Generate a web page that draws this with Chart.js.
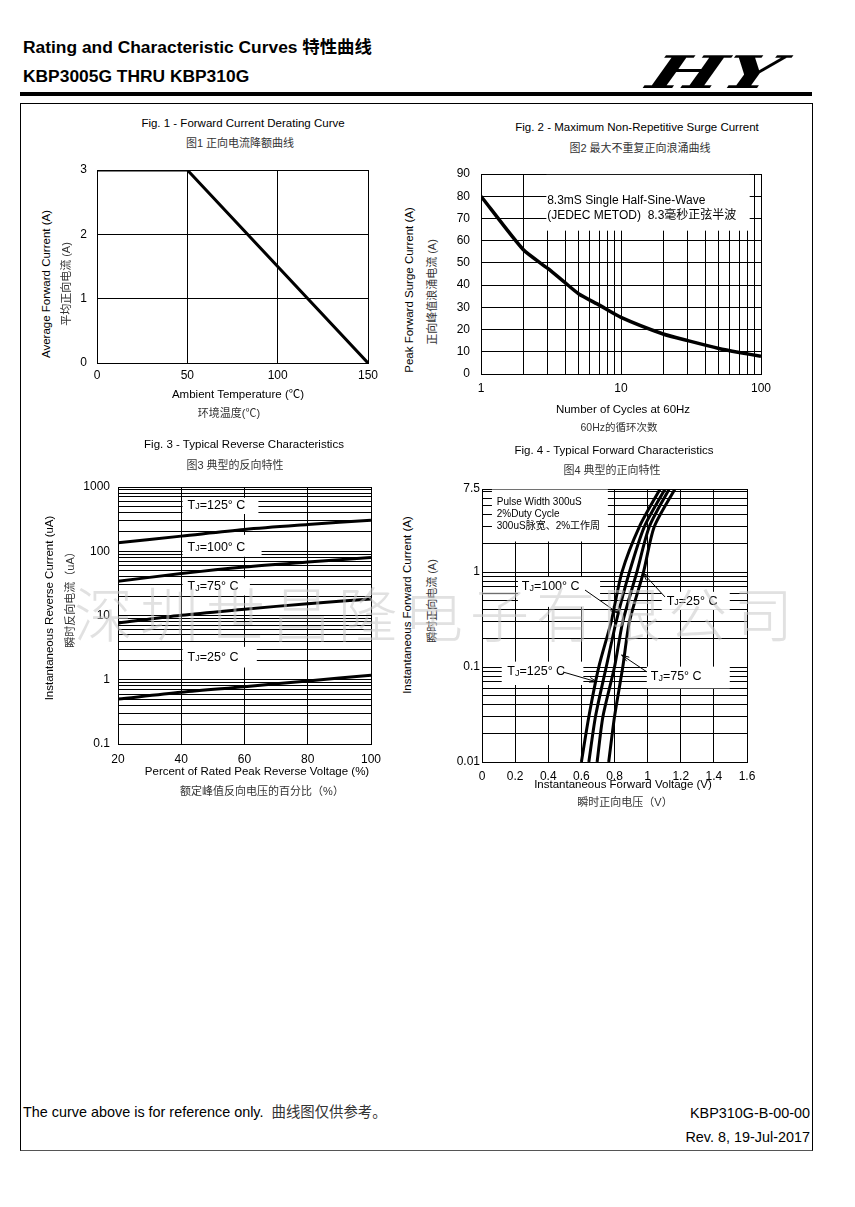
<!DOCTYPE html>
<html>
<head>
<meta charset="utf-8">
<script src="https://cdn.jsdelivr.net/npm/chart.js@4.4.0/dist/chart.umd.min.js"></script>
<style>
  body { margin: 0; background: #fff; }
  #page { position: relative; width: 855px; height: 1207px; overflow: hidden; background: #fff;
          font-family: Arial, "Liberation Sans", "Noto Sans CJK SC", sans-serif; color: #000; }
  .t { position: absolute; white-space: nowrap; line-height: 1; }
  canvas { position: absolute; }
</style>
</head>
<body>
<div id="page">
  <div class="t" style="left:23px;top:39px;font-size:17.4px;font-weight:bold">Rating and Characteristic Curves 特性曲线</div>
  <div class="t" style="left:23px;top:68px;font-size:17.4px;font-weight:bold">KBP3005G THRU KBP310G</div>
  <div class="t" style="left:660px;top:46px;font:italic bold 45px 'DejaVu Serif';transform:scaleX(1.75) skewX(-12deg);transform-origin:left top">HY</div>
  <div style="position:absolute;left:20px;top:92px;width:792px;height:4px;background:#000"></div>
  <div style="position:absolute;left:20px;top:103px;width:793px;height:1048px;border:1px solid #000;border-bottom-color:#555;box-sizing:border-box"></div>

  <canvas id="fig1"></canvas>
  <canvas id="fig2"></canvas>
  <canvas id="fig3"></canvas>
  <canvas id="fig4"></canvas>

  <div class="t" style="left:23px;top:1105px;font-size:14.4px">The curve above is for reference only. &nbsp;<span style="color:#333">曲线图仅供参考。</span></div>
  <div class="t" style="right:45px;top:1106px;font-size:14.4px">KBP310G-B-00-00</div>
  <div class="t" style="right:45px;top:1130px;font-size:14.4px">Rev. 8, 19-Jul-2017</div>

  <div class="t" style="left:74px;top:582px;font-size:59px;letter-spacing:7px;color:rgba(200,200,200,0.55);font-family:'Noto Sans CJK SC';font-weight:300;z-index:5">深圳世昌隆电子有限公司</div>
</div>

<script>
// ---------- data ----------
// Fig. 1 derating
const derateTemp = [0, 50, 150];
const derateCurrent = [3, 3, 0];

// Fig. 2 surge current vs cycles
const surgeCycles = [1, 2, 3, 4, 5, 7, 10, 20, 30, 50, 70, 100];
const surgeCurrent = [80, 56, 47.5, 41, 36, 31, 25.5, 18, 15, 11.5, 9.7, 8];
const surgeXGrid = [1, 2, 3, 4, 5, 6, 7, 8, 9, 10, 20, 30, 40, 50, 60, 70, 80, 90, 100];
const surgeXLabels = [1, 10, 100];

// Fig. 3 reverse current (uA) vs % rated voltage
const reversePct = [20, 40, 60, 80, 100];
const reverse125 = [136, 172, 218, 260, 305];
const reverse100 = [34, 45, 57, 68, 80];
const reverse75 = [7.6, 10.1, 12.5, 15.3, 18];
const reverse25 = [0.5, 0.64, 0.78, 0.96, 1.18];
const reverseYGrid = [0.1, 0.2, 0.3, 0.4, 0.5, 0.6, 0.7, 0.8, 0.9, 1, 2, 3, 4, 5, 6, 7, 8, 9,
  10, 20, 30, 40, 50, 60, 70, 80, 90, 100, 200, 300, 400, 500, 600, 700, 800, 900, 1000];
const reverseYLabels = [0.1, 1, 10, 100, 1000];

// Fig. 4 forward voltage (V) at forward current (A)
const forwardCurrent = [0.01, 0.03, 0.1, 0.3, 1, 3, 7.5];
const forward125 = [0.60, 0.645, 0.705, 0.78, 0.845, 0.95, 1.075];
const forward100 = [0.645, 0.685, 0.75, 0.81, 0.89, 0.98, 1.105];
const forward75 = [0.695, 0.73, 0.80, 0.85, 0.935, 1.01, 1.13];
const forward25 = [0.765, 0.80, 0.85, 0.89, 0.975, 1.04, 1.165];
const forwardYGrid = [0.01, 0.02, 0.03, 0.04, 0.05, 0.06, 0.07, 0.08, 0.09,
  0.1, 0.2, 0.3, 0.4, 0.5, 0.6, 0.7, 0.8, 0.9, 1, 2, 3, 4, 5, 6, 7, 7.5];
const forwardYLabels = [0.01, 0.1, 1, 7.5];

// ---------- page texts ----------
const FONT = 'Arial, "Liberation Sans", "Noto Sans CJK SC", sans-serif';
const texts = [
  ['Fig. 1 - Forward Current Derating Curve', 243, 124, 11.5, 0],
  ['图1 正向电流降额曲线', 240, 143, 11, 0, '#333'],
  ['Average Forward Current (A)', 47, 284, 11.5, 1],
  ['平均正向电流 (A)', 66, 284, 11, 1, '#333'],
  ['Ambient Temperature (\u2103)', 238, 395, 11.5, 0],
  ['环境温度(\u2103)', 229, 413, 11, 0, '#333'],

  ['Fig. 2 - Maximum Non-Repetitive Surge Current', 637, 128, 11.5, 0],
  ['图2  最大不重复正向浪涌曲线', 640, 147.5, 11, 0, '#333'],
  ['Peak Forward Surge Current (A)', 410, 290, 11.5, 1],
  ['正向峰值浪涌电流  (A)', 432, 292, 11, 1, '#333'],
  ['Number of Cycles at 60Hz', 623, 410, 11.5, 0],
  ['60Hz的循环次数', 619, 427, 10.5, 0, '#333'],

  ['Fig. 3 - Typical Reverse Characteristics', 244, 445, 11.5, 0],
  ['图3  典型的反向特性', 235, 465, 11, 0, '#333'],
  ['Instantaneous Reverse Current (uA)', 50, 608, 11.5, 1],
  ['瞬时反向电流（uA）', 70, 597, 11, 1, '#333'],
  ['Percent of Rated Peak Reverse Voltage (%)', 257, 772, 11.5, 0],
  ['额定峰值反向电压的百分比（%）', 262, 791, 11, 0, '#333'],

  ['Fig. 4 - Typical Forward Characteristics', 614, 451, 11.5, 0],
  ['图4  典型的正向特性', 612, 470, 11, 0, '#333'],
  ['Instantaneous Forward Current (A)', 408, 605, 11.5, 1],
  ['瞬时正向电流  (A)', 432, 601, 11, 1, '#333'],
  ['Instantaneous Forward Voltage (V)', 623, 785, 11.5, 0],
  ['瞬时正向电压（V）', 625, 802, 11, 0, '#333'],
];
const page = document.getElementById('page');
texts.forEach(([s, x, y, size, rot, color]) => {
  const d = document.createElement('div');
  d.className = 't';
  d.textContent = s;
  d.style.left = x + 'px';
  d.style.top = y + 'px';
  d.style.fontSize = size + 'px';
  if (color) d.style.color = color;
  d.style.transform = 'translate(-50%,-50%)' + (rot ? ' rotate(-90deg)' : '');
  page.appendChild(d);
});

// ---------- chart helpers ----------
Chart.defaults.font.family = FONT;
Chart.defaults.color = '#000';

const PAD_T = 10, PAD_R = 16;

function place(id, area, yw, xh) {
  const c = document.getElementById(id);
  c.width = yw + area.w + PAD_R;
  c.height = PAD_T + area.h + xh;
  c.style.left = (area.x - yw) + 'px';
  c.style.top = (area.y - PAD_T) + 'px';
  return c;
}

function axis(pos, size, pad, extra, tickExtra) {
  return Object.assign({
    position: pos,
    grid: { color: '#000', lineWidth: 1, drawTicks: false },
    border: { color: '#000', width: 1 },
    ticks: Object.assign({ color: '#000', font: { size: 12 }, padding: pad, autoSkip: false, maxRotation: 0 }, tickExtra || {}),
    afterFit: s => {
      // fixed axis sizes so the plot areas land where the reference has them
      if (pos === 'left') { s.width = size; s.paddingTop = 0; s.paddingBottom = 0; }
      else { s.height = size; s.paddingLeft = 0; s.paddingRight = 0; }
    }
  }, extra);
}

function logTicks(grid, labels) {
  return {
    afterBuildTicks: s => { s.ticks = grid.map(v => ({ value: v })); },
    tickExtra: { callback: v => labels.includes(v) ? String(v) : '' }
  };
}

function pts(xs, ys) { return xs.map((x, i) => ({ x: x, y: ys[i] })); }

function line(data, width, tension) {
  return { data: data, showLine: true, borderColor: '#000', borderWidth: width,
           pointRadius: 0, tension: tension || 0, fill: false };
}

function tjLabel(ctx, px, py, t, size) {
  ctx.textBaseline = 'middle';
  ctx.textAlign = 'left';
  ctx.font = size + 'px ' + FONT;
  ctx.fillText('T', px, py);
  let w = ctx.measureText('T').width;
  ctx.font = (size * 0.72) + 'px ' + FONT;
  ctx.fillText('J', px + w, py + size * 0.1);
  w += ctx.measureText('J').width;
  ctx.font = size + 'px ' + FONT;
  ctx.fillText('=' + t + '\u00B0 C', px + w, py);
}

// notes: boxes [x1,x2,y1,y2], tj [x,y,temp], lines [x,y,text,size], arrows [x1,y1,x2,y2] in data units
function notesPlugin(notes) {
  return {
    id: 'notes',
    beforeDatasetsDraw(chart) {
      const { ctx, scales: { x, y } } = chart;
      ctx.save();
      ctx.fillStyle = '#fff';
      (notes.boxes || []).forEach(b => {
        const x1 = x.getPixelForValue(b[0]), x2 = x.getPixelForValue(b[1]);
        const y1 = y.getPixelForValue(b[3]), y2 = y.getPixelForValue(b[2]);
        ctx.fillRect(x1, y1, x2 - x1, y2 - y1);
      });
      ctx.fillStyle = '#000';
      (notes.tj || []).forEach(n => tjLabel(ctx, x.getPixelForValue(n[0]), y.getPixelForValue(n[1]), n[2], 12.5));
      (notes.lines || []).forEach(n => {
        ctx.font = n[3] + 'px ' + FONT;
        ctx.textBaseline = 'middle';
        ctx.textAlign = 'left';
        ctx.fillText(n[2], x.getPixelForValue(n[0]), y.getPixelForValue(n[1]));
      });
      ctx.restore();
    },
    afterDatasetsDraw(chart) {
      const { ctx, scales: { x, y } } = chart;
      ctx.save();
      ctx.strokeStyle = '#000';
      ctx.lineWidth = 1;
      (notes.arrows || []).forEach(a => {
        const x1 = x.getPixelForValue(a[0]), y1 = y.getPixelForValue(a[1]);
        const x2 = x.getPixelForValue(a[2]), y2 = y.getPixelForValue(a[3]);
        const ang = Math.atan2(y2 - y1, x2 - x1);
        ctx.beginPath();
        ctx.moveTo(x1, y1);
        ctx.lineTo(x2, y2);
        ctx.moveTo(x2, y2);
        ctx.lineTo(x2 - 8 * Math.cos(ang - 0.3), y2 - 8 * Math.sin(ang - 0.3));
        ctx.moveTo(x2, y2);
        ctx.lineTo(x2 - 8 * Math.cos(ang + 0.3), y2 - 8 * Math.sin(ang + 0.3));
        ctx.stroke();
      });
      ctx.restore();
    }
  };
}

function baseOptions(scales) {
  return {
    responsive: false,
    animation: false,
    events: [],
    layout: { padding: { top: PAD_T, right: PAD_R, left: 0, bottom: 0 } },
    plugins: { legend: { display: false }, tooltip: { enabled: false } },
    scales: scales
  };
}

// ---------- Fig. 1 ----------
new Chart(place('fig1', { x: 97, y: 170, w: 271, h: 193 }, 40, 26), {
  type: 'scatter',
  data: { datasets: [line(pts(derateTemp, derateCurrent), 3)] },
  options: baseOptions({
    x: axis('bottom', 26, 5, { min: 0, max: 150 }, { stepSize: 50 }),
    y: axis('left', 40, 10, { min: 0, max: 3 }, { stepSize: 1 })
  })
});

// ---------- Fig. 2 ----------
const f2x = logTicks(surgeXGrid, surgeXLabels);
new Chart(place('fig2', { x: 481, y: 174, w: 280, h: 200 }, 40, 26), {
  type: 'scatter',
  data: { datasets: [line(pts(surgeCycles, surgeCurrent), 3.5, 0.2)] },
  options: baseOptions({
    x: axis('bottom', 26, 7, { type: 'logarithmic', min: 1, max: 100, afterBuildTicks: f2x.afterBuildTicks }, f2x.tickExtra),
    y: axis('left', 40, 11, { min: 0, max: 90 }, { stepSize: 10 })
  }),
  plugins: [notesPlugin({
    boxes: [[2.93, 83, 64.5, 89.6]],
    lines: [[2.97, 78.1, '8.3mS Single Half-Sine-Wave', 12],
            [2.97, 71.2, '(JEDEC METOD)  8.3毫秒正弦半波', 12]]
  })]
});

// ---------- Fig. 3 ----------
const f3y = logTicks(reverseYGrid, reverseYLabels);
new Chart(place('fig3', { x: 118, y: 487, w: 253, h: 257 }, 40, 26), {
  type: 'scatter',
  data: { datasets: [
    line(pts(reversePct, reverse125), 3, 0.3),
    line(pts(reversePct, reverse100), 3, 0.3),
    line(pts(reversePct, reverse75), 3, 0.3),
    line(pts(reversePct, reverse25), 3, 0.3)
  ] },
  options: baseOptions({
    x: axis('bottom', 26, 8, { min: 20, max: 100 }, { stepSize: 20 }),
    y: axis('left', 40, 8, { type: 'logarithmic', min: 0.1, max: 1000, afterBuildTicks: f3y.afterBuildTicks }, f3y.tickExtra)
  }),
  plugins: [notesPlugin({
    boxes: [[40.4, 64.4, 380, 680], [40.4, 65.4, 82, 180], [40.4, 61.7, 20.5, 38], [40.4, 63.9, 1.55, 3.25]],
    tj: [[42, 519, '125'], [42, 116, '100'], [42, 28, '75'], [42, 2.2, '25']]
  })]
});

// ---------- Fig. 4 ----------
const f4y = logTicks(forwardYGrid, forwardYLabels);
new Chart(place('fig4', { x: 482, y: 489, w: 265, h: 273 }, 40, 26), {
  type: 'scatter',
  data: { datasets: [
    line(pts(forward125, forwardCurrent), 3, 0.25),
    line(pts(forward100, forwardCurrent), 3, 0.25),
    line(pts(forward75, forwardCurrent), 3, 0.25),
    line(pts(forward25, forwardCurrent), 3, 0.25)
  ] },
  options: baseOptions({
    x: axis('bottom', 26, 7, { min: 0, max: 1.6 }, { stepSize: 0.2, callback: v => String(+v.toFixed(1)) }),
    y: axis('left', 40, 2, { type: 'logarithmic', min: 0.01, max: 7.5, afterBuildTicks: f4y.afterBuildTicks }, f4y.tickExtra)
  }),
  plugins: [notesPlugin({
    boxes: [[0.06, 0.76, 2.1, 7.4], [0.217, 0.713, 0.43, 0.887], [1.085, 1.496, 0.40, 0.62],
            [0.119, 0.612, 0.0647, 0.114], [0.995, 1.496, 0.0597, 0.101]],
    lines: [[0.089, 5.5, 'Pulse Width 300uS', 10],
            [0.089, 4.1, '2%Duty Cycle', 10],
            [0.089, 3.05, '300uS脉宽、2%工作周', 10]],
    tj: [[0.24, 0.70, '100'], [1.115, 0.49, '25'], [0.153, 0.0887, '125'], [1.019, 0.079, '75']],
    arrows: [[0.622, 0.647, 0.821, 0.37], [1.105, 0.547, 0.972, 0.977],
             [0.489, 0.0887, 0.694, 0.0697], [0.994, 0.0893, 0.843, 0.134]]
  })]
});
</script>
</body>
</html>
